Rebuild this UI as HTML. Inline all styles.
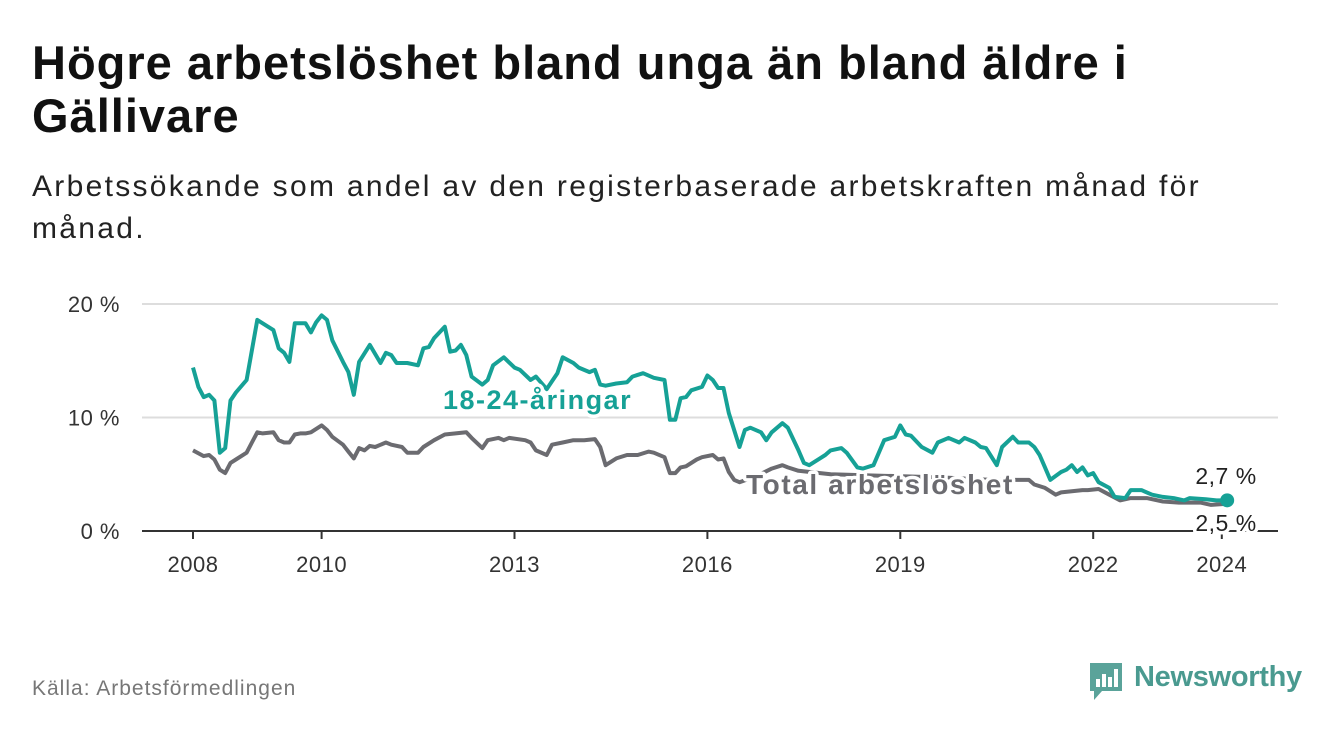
<!DOCTYPE html>
<html><head><meta charset="utf-8"><style>
body{margin:0;width:1340px;height:734px;background:#fff;font-family:"Liberation Sans","DejaVu Sans",sans-serif;overflow:hidden;position:relative}
h1{position:absolute;left:32px;top:36px;margin:0;font-size:47px;line-height:53px;font-weight:bold;color:#111;width:1290px;letter-spacing:1px;white-space:nowrap}
.sub{position:absolute;left:32px;top:166px;margin:0;font-size:30px;line-height:42px;color:#222;width:1290px;letter-spacing:2.3px;white-space:nowrap}
.src{position:absolute;left:32px;top:677px;font-size:21px;color:#777;letter-spacing:1px}
</style></head><body>
<h1>Högre arbetslöshet bland unga än bland äldre i<br>Gällivare</h1>
<p class="sub">Arbetssökande som andel av den registerbaserade arbetskraften månad för<br>månad.</p>
<div class="src">Källa: Arbetsförmedlingen</div>
<div style="position:absolute;left:1088px;top:661px;width:230px;height:44px">
<svg width="36" height="42" style="position:absolute;left:0;top:0"><path d="M2 2h32v28H14l-8 9v-9H2z" fill="#5aa39a"/><rect x="8" y="18" width="4" height="8" fill="#fff"/><rect x="14" y="13" width="4" height="13" fill="#fff"/><rect x="20" y="16" width="4" height="10" fill="#fff"/><rect x="26" y="8" width="4" height="18" fill="#fff"/></svg>
<span style="position:absolute;left:46px;top:0;font-size:29px;color:#4a9a90;font-weight:bold;letter-spacing:-0.3px">Newsworthy</span></div>
<svg id="chart" width="1340" height="734" style="position:absolute;left:0;top:0"></svg>
<script>
const yTicks=[0,10,20];
const yTickLabels=["0 %","10 %","20 %"];
const xTickYears=[2008,2010,2013,2016,2019,2022,2024];
const youthMonths=[0,1,2,3,4,5,6,7,8,10,12,14,15,16,17,18,19,21,22,23,24,25,26,28,29,30,31,33,35,36,37,38,40,42,43,44,45,47,48,49,50,51,52,54,55,56,58,60,61,63,64,66,68,69,71,72,74,75,76,77,79,81,82,84,86,88,89,90,91,92,93,95,96,97,98,99,100,102,103,104,106,107,108,110,111,113,114,115,117,118,119,121,122,124,125,127,129,131,132,133,134,136,138,139,141,143,144,146,147,148,150,151,153,154,156,157,158,159,160,162,163,164,165,166,167,168,169,171,172,174,175,177,179,181,183,185,186,189,191,193];
const youthValues=[14.4,12.7,11.8,12,11.5,6.9,7.3,11.5,12.2,13.3,18.6,18,17.7,16.1,15.7,14.9,18.3,18.3,17.5,18.4,19,18.6,16.8,14.9,14,12,14.9,16.4,14.8,15.7,15.5,14.8,14.8,14.6,16.1,16.2,17,18,15.8,15.9,16.4,15.5,13.6,12.9,13.3,14.6,15.3,14.4,14.2,13.3,13.6,12.5,13.9,15.3,14.8,14.4,14,14.2,12.9,12.8,13,13.1,13.6,13.9,13.5,13.3,9.8,9.8,11.7,11.8,12.4,12.7,13.7,13.3,12.6,12.6,10.4,7.4,8.9,9.1,8.7,8,8.7,9.5,9.1,7.1,6,5.8,6.4,6.7,7.1,7.3,6.9,5.6,5.5,5.8,8.0,8.3,9.3,8.5,8.4,7.4,6.9,7.8,8.2,7.8,8.2,7.8,7.4,7.3,5.8,7.4,8.3,7.8,7.8,7.4,6.7,5.6,4.5,5.2,5.4,5.8,5.2,5.6,4.9,5.1,4.3,3.8,3.0,2.9,3.6,3.6,3.2,3.0,2.9,2.7,2.9,2.8,2.7,2.7];
const totalMonths=[0,2,3,4,5,6,7,8,10,11,12,13,15,16,17,18,19,20,21,22,24,25,26,28,29,30,31,32,33,34,36,37,39,40,42,43,45,47,49,51,52,54,55,57,58,59,62,63,64,66,67,69,71,73,75,76,77,79,81,83,85,86,88,89,90,91,92,94,95,97,98,99,100,101,102,105,108,110,111,113,119,126,134,141,149,154,156,157,159,161,162,164,166,167,169,171,173,175,178,181,184,188,190,193];
const totalValues=[7.1,6.6,6.7,6.3,5.4,5.1,6.0,6.3,6.9,7.8,8.7,8.6,8.7,8,7.8,7.8,8.5,8.6,8.6,8.7,9.3,8.9,8.3,7.6,7.0,6.4,7.3,7.1,7.5,7.4,7.8,7.6,7.4,6.9,6.9,7.4,8.0,8.5,8.6,8.7,8.2,7.3,8.0,8.2,8.0,8.2,8.0,7.8,7.1,6.7,7.6,7.8,8.0,8.0,8.1,7.4,5.8,6.4,6.7,6.7,7.0,6.9,6.5,5.1,5.1,5.6,5.7,6.3,6.5,6.7,6.3,6.4,5.2,4.5,4.3,4.8,5.5,5.8,5.6,5.3,5.0,4.9,4.8,4.7,4.5,4.5,4.5,4.1,3.8,3.2,3.4,3.5,3.6,3.6,3.7,3.2,2.7,2.9,2.9,2.6,2.5,2.5,2.3,2.4];
const lastYouthLabel="2,7 %", lastTotalLabel="2,5 %";

const NS="http://www.w3.org/2000/svg";
const svg=document.getElementById('chart');
const X0=142,X1=1278;
const xM=m=>193+m*64.3/12;
const xY=yr=>xM((yr-2008)*12);
const yV=v=>531-v*11.35;
function mk(tag,attrs,parent){const e=document.createElementNS(NS,tag);for(const k in attrs)e.setAttribute(k,attrs[k]);(parent||svg).appendChild(e);return e;}
yTicks.forEach((t,i)=>{
  if(t>0){const g=mk('line',{x1:X0,x2:X1,y1:yV(t),y2:yV(t),stroke:'#ddd','stroke-width':2});
  
  }
  const l=mk('text',{x:120,y:yV(t)+8,'text-anchor':'end','font-size':22,fill:'#333','letter-spacing':0.5});
  l.textContent=yTickLabels[i];
  
  
});
const base=mk('line',{x1:X0,x2:X1,y1:531,y2:531,stroke:'#333','stroke-width':2});


xTickYears.forEach(yr=>{
  const tk=mk('line',{x1:xY(yr),x2:xY(yr),y1:531,y2:539,stroke:'#333','stroke-width':2});
  
  
  const l=mk('text',{x:xY(yr),y:572,'text-anchor':'middle','font-size':22,fill:'#333','letter-spacing':0.5});
  l.textContent=yr;
  
  
});
function path(ms,vs){return ms.map((m,i)=>(i?'L':'M')+xM(m).toFixed(1)+' '+yV(vs[i]).toFixed(1)).join(' ');}
const tl=mk('path',{d:path(totalMonths,totalValues),fill:'none',stroke:'#6b6b70','stroke-width':4,'stroke-linejoin':'round'});


const yl=mk('path',{d:path(youthMonths,youthValues),fill:'none',stroke:'#16a196','stroke-width':4,'stroke-linejoin':'round'});


function lab(txt,x,y,col,name,size,bold,anchor,ls){
  const t=mk('text',{x:x,y:y,'font-size':size,'font-weight':bold?'bold':'normal',fill:col,stroke:'#fff','stroke-width':7,'paint-order':'stroke','stroke-linejoin':'round','text-anchor':anchor||'start','letter-spacing':ls||0});
  t.textContent=txt;
  
  
}
lab('18-24-åringar',443,409,'#16a196','youth-series-label',27,true,'start',1.5);
lab('Total arbetslöshet',746,494,'#6b6b70','total-series-label',28,true,'start',1.6);
const lm=youthMonths[youthMonths.length-1], lv=youthValues[youthValues.length-1];
const dot=mk('circle',{cx:xM(lm),cy:yV(lv),r:7,fill:'#16a196'});


lab(lastYouthLabel,1226,484,'#222','youth-end-value',23,false,'middle',0.5);
lab(lastTotalLabel,1226,531,'#222','total-end-value',23,false,'middle',0.5);
</script>
</body></html>
